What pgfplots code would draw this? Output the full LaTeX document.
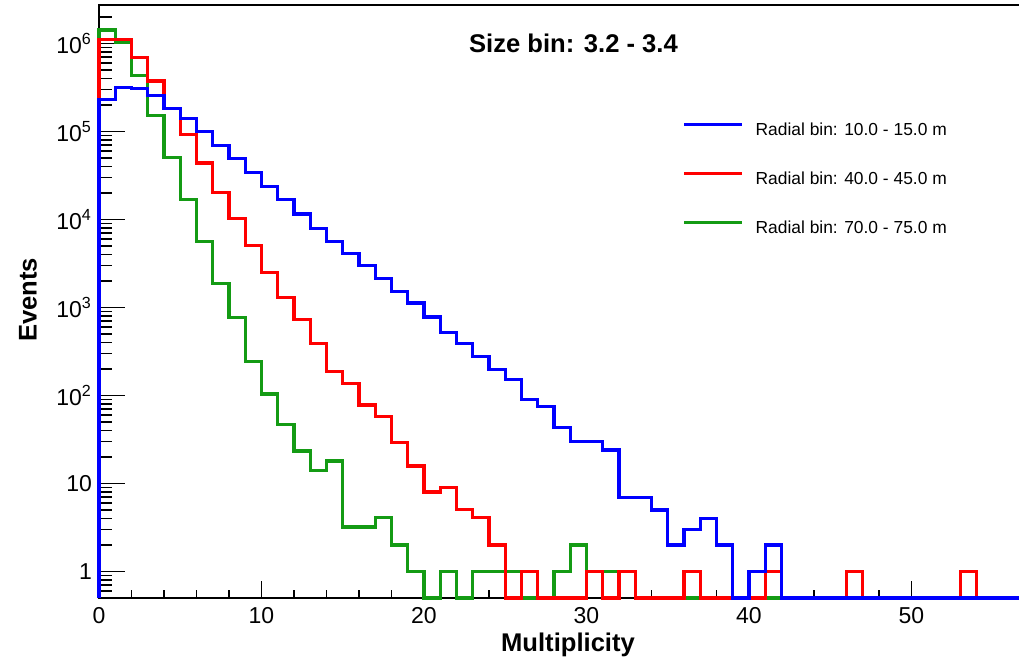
\documentclass[border=0pt]{standalone}
\usepackage{pgfplots}
\usepackage{pgfplotstable}
\pgfplotsset{compat=1.18}
\usepackage{fontspec}
\setmainfont{Liberation Sans}
\definecolor{rblue}{RGB}{0,0,255}
\definecolor{rred}{RGB}{255,0,0}
\definecolor{rgreen}{RGB}{20,155,20}

\pgfplotstableread{
x  b       r       g
0  0.5     0.5     0.5
0  2.3e5   1.12e6  1.43e6
1  3.2e5   1.12e6  1.03e6
2  3.1e5   7.0e5   4.3e5
3  2.55e5  3.77e5  1.51e5
4  1.85e5  1.85e5  5.1e4
5  1.42e5  9.2e4   1.68e4
6  1.0e5   4.39e4  5660
7  6.95e4  2.04e4  1870
8  5.0e4   1.02e4  764
9  3.4e4   5060    246
10 2.4e4   2480    104
11 1.7e4   1290    47
12 1.16e4  731     23.4
13 8000    390     14.2
14 5660    186     18
15 4100    138     3.2
16 3000    78      3.2
17 2120    58      4.1
18 1520    29      2
19 1130    15.8    1
20 783     8       0.5
21 525     9.1     1
22 390     5.1     0.5
23 280     4.1     1
24 198     2       1
25 152     0.5     1
26 90      1       0.5
27 75      0.5     0.5
28 43      0.5     1
29 30      0.5     2
30 30      1       1
31 24      0.5     1
32 7       1       1
33 7       0.5     0.5
34 5       0.5     0.5
35 2       0.5     0.5
36 3       1       0.5
37 4       0.5     0.5
38 2       0.5     0.5
39 0.5     0.5     0.5
40 1       0.5     0.5
41 2       1       0.5
42 0.5     0.5     0.5
43 0.5     0.5     0.5
44 0.5     0.5     0.5
45 0.5     0.5     0.5
46 0.5     1       0.5
47 0.5     0.5     0.5
48 0.5     0.5     0.5
49 0.5     0.5     0.5
50 0.5     0.5     0.5
51 0.5     0.5     0.5
52 0.5     0.5     0.5
53 0.5     1       0.5
54 0.5     0.5     0.5
55 0.5     0.5     0.5
56 0.5     0.5     0.5
57 0.5     0.5     0.5
}\hist

\begin{document}
\begin{tikzpicture}
\begin{axis}[
  at={(0pt,0pt)}, anchor=south west,
  scale only axis,
  width=464.75pt, height=296.5pt,
  xmin=0, xmax=57.2,
  ymode=log, ymin=0.5, ymax=2.75e6,
  clip=false,
  axis line style={line width=1pt, black},
  tick pos=left,
  tick align=inside,
  xtick={0,10,20,30,40,50},
  minor x tick num=4,
  ytick={1,10,100,1000,10000,100000,1000000},
  yticklabels={1,10,10\textsuperscript{2},10\textsuperscript{3},10\textsuperscript{4},10\textsuperscript{5},10\textsuperscript{6}},
  minor ytick={0.6,0.7,0.8,0.9,2,3,4,5,6,7,8,9,20,30,40,50,60,70,80,90,200,300,400,500,600,700,800,900,2000,3000,4000,5000,6000,7000,8000,9000,20000,30000,40000,50000,60000,70000,80000,90000,200000,300000,400000,500000,600000,700000,800000,900000,2000000},
  xtick style={line width=0.8pt, black, /pgfplots/major tick length=8.5pt, /pgfplots/minor tick length=4pt},
  ytick style={line width=0.8pt, black, /pgfplots/major tick length=13pt, /pgfplots/minor tick length=6.5pt},
  /pgf/number format/assume math mode=true,
  tick label style={font=\fontsize{11.5}{13}\selectfont},
  xticklabel style={yshift=-1pt},
  legend style={draw=none, fill=none, at={(axis description cs:0.6208,0.7055)}, anchor=west,
    font=\fontsize{8.7}{10}\selectfont, row sep=16.5pt, column sep=6pt,
    nodes={inner sep=0pt}},
  legend cell align=left,
  reverse legend,
  legend image code/.code={\draw[#1] (0pt,3.2pt) -- (29pt,3.2pt);},
]
\addplot[const plot, rgreen, line width=1.6pt] table[x=x, y=g] {\hist};
\addlegendentry{Radial bin: 70.0 - 75.0 m}
\addplot[const plot, rred, line width=1.6pt] table[x=x, y=r] {\hist};
\addlegendentry{Radial bin: 40.0 - 45.0 m}
\addplot[const plot, rblue, line width=1.6pt] table[x=x, y=b] {\hist};
\addlegendentry{Radial bin: 10.0 - 15.0 m}
\end{axis}
\node[font=\fontsize{12.8}{15}\selectfont\bfseries] at (237.25pt,277.5pt) {Size bin: 3.2 - 3.4};
\node[font=\fontsize{12.8}{15}\selectfont\bfseries] at (234.5pt,-23.5pt) {Multiplicity};
\node[font=\fontsize{12.8}{15}\selectfont\bfseries, rotate=90] at (-35.5pt,149pt) {Events};
\pgfresetboundingbox
\path[use as bounding box] (-49.5pt,-31pt) rectangle (460pt,299pt);
\end{tikzpicture}
\end{document}
